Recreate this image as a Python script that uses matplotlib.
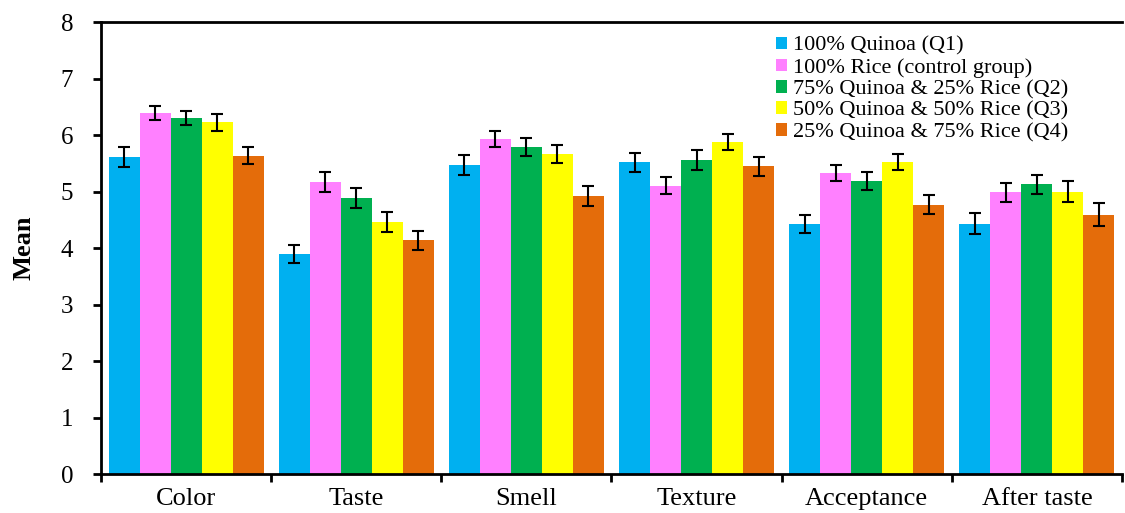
import numpy as np
import matplotlib.pyplot as plt
from matplotlib.ticker import FixedLocator, NullFormatter

categories = ['Color', 'Taste', 'Smell', 'Texture', 'Acceptance', 'After taste']
series_names = ['100% Quinoa (Q1)', '100% Rice (control group)',
                '75% Quinoa & 25% Rice (Q2)', '50% Quinoa & 50% Rice (Q3)',
                '25% Quinoa & 75% Rice (Q4)']
colors = ['#00B0F0', '#FF80FF', '#00B050', '#FFFF00', '#E46C0A']

q1 = [5.61, 3.90, 5.47, 5.52, 4.43, 4.43]
rice = [6.39, 5.17, 5.93, 5.10, 5.33, 4.99]
q2 = [6.30, 4.89, 5.79, 5.56, 5.19, 5.13]
q3 = [6.23, 4.46, 5.66, 5.88, 5.52, 5.00]
q4 = [5.63, 4.14, 4.92, 5.45, 4.77, 4.59]

q1_err = [0.18, 0.16, 0.18, 0.17, 0.16, 0.19]
rice_err = [0.13, 0.18, 0.14, 0.15, 0.14, 0.17]
q2_err = [0.13, 0.18, 0.16, 0.17, 0.16, 0.17]
q3_err = [0.15, 0.18, 0.16, 0.14, 0.14, 0.18]
q4_err = [0.15, 0.17, 0.18, 0.17, 0.17, 0.20]

values = [q1, rice, q2, q3, q4]
errors = [q1_err, rice_err, q2_err, q3_err, q4_err]

plt.rcParams['font.family'] = ['Liberation Serif', 'DejaVu Serif']

fig = plt.figure(figsize=(11.25, 5.13), dpi=100)
ax = fig.add_axes([0.0898, 0.076, 0.9075, 0.881])

x = np.arange(len(categories)) + 0.5
w = 0.182
for i in range(5):
    pos = x + (i - 2) * w
    ax.bar(pos, values[i], w, color=colors[i], label=series_names[i],
           edgecolor='none', zorder=2)
    ax.errorbar(pos, values[i], yerr=errors[i], fmt='none', ecolor='black',
                elinewidth=1.5, capsize=4.3, capthick=1.5, zorder=3)

ax.set_xlim(0, 6)
ax.set_ylim(0, 8)
ax.set_yticks(range(0, 9))
ax.tick_params(axis='y', direction='out', length=6, width=2, labelsize=18, pad=14)

ax.xaxis.set_major_locator(FixedLocator(range(0, 7)))
ax.xaxis.set_major_formatter(NullFormatter())
ax.xaxis.set_minor_locator(FixedLocator(x))
ax.set_xticklabels(categories, minor=True)
ax.tick_params(axis='x', which='major', direction='out', length=6, width=2)
ax.tick_params(axis='x', which='minor', length=0, labelsize=19, pad=10)

for s in ['left', 'bottom', 'top']:
    ax.spines[s].set_linewidth(2)
ax.spines['right'].set_visible(False)

ax.set_ylabel('Mean', fontsize=19, fontweight='bold', labelpad=18)

ax.legend(loc='upper left', bbox_to_anchor=(760 / 1125, 1 - 21 / 513),
          bbox_transform=fig.transFigure, frameon=False, fontsize=16,
          handlelength=0.5, handleheight=0.5, handletextpad=0.3,
          labelspacing=0.1, borderpad=0.2)

fig.savefig('out.png', dpi=100)
